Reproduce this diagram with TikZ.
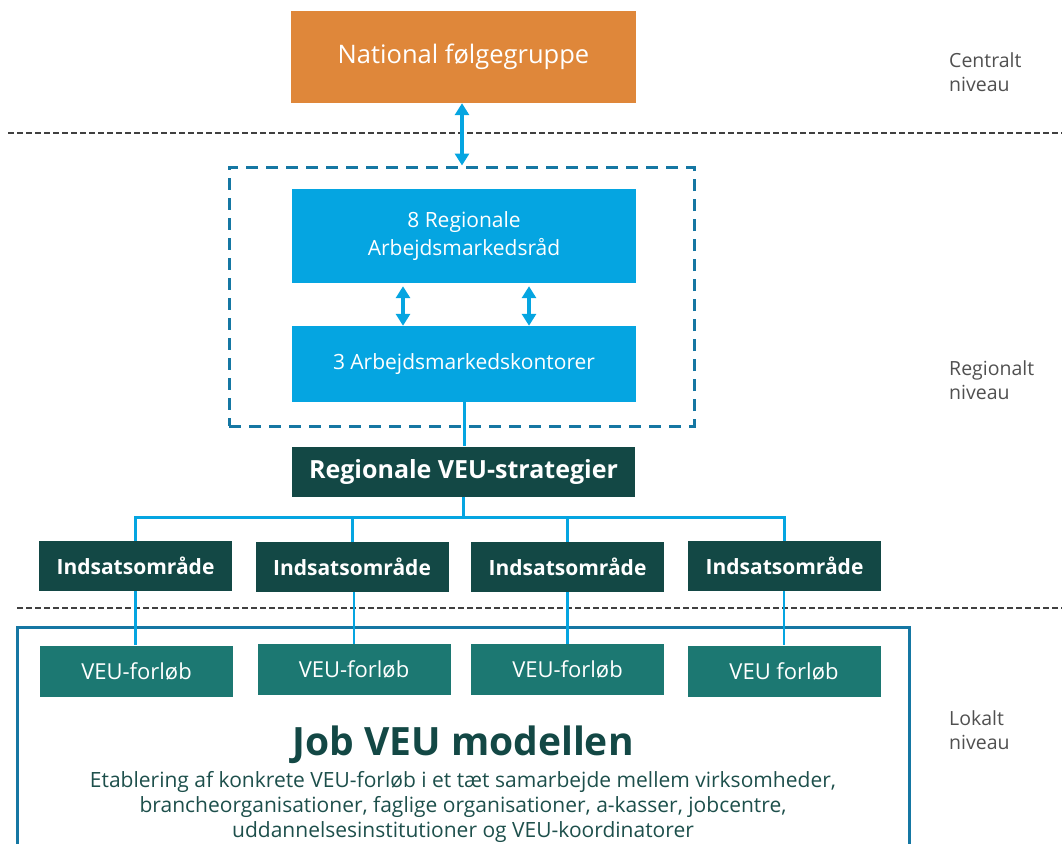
\documentclass[tikz,border=0pt]{standalone}
\usepackage{fontspec}
\setmainfont{Open Sans}
\usetikzlibrary{arrows.meta}
\definecolor{orangeA}{HTML}{DF873A}
\definecolor{blueA}{HTML}{05A5E1}
\definecolor{blueD}{HTML}{1577A3}
\definecolor{tealD}{HTML}{134845}
\definecolor{tealM}{HTML}{1C7872}
\definecolor{tealT}{HTML}{1D4F4B}
\definecolor{grayT}{HTML}{505050}
\definecolor{grayL}{HTML}{404040}
\begin{document}
\begin{tikzpicture}[x=1pt,y=-1pt,
  box/.style={rectangle, inner sep=0pt, text=white, align=center},
  natbox/.style={box, fill=orangeA, minimum width=345pt, minimum height=92pt, font=\fontsize{25.5}{30}\selectfont},
  bluebox/.style={box, fill=blueA, minimum width=344pt, font=\fontsize{21}{28}\selectfont},
  stratbox/.style={box, fill=tealD, minimum width=343pt, minimum height=50pt, font=\fontsize{25}{29}\selectfont\bfseries},
  indbox/.style={box, fill=tealD, minimum width=193pt, minimum height=50pt, font=\fontsize{21}{25}\selectfont\bfseries},
  veubox/.style={box, fill=tealM, minimum width=193pt, minimum height=51pt, font=\fontsize{22}{26}\selectfont},
  dbl/.style={blueA, line width=4pt, {Triangle[width=14pt,length=12pt]}-{Triangle[width=14pt,length=12pt]}},
  conn/.style={blueA, line width=3pt},
  level/.style={anchor=base west, text=grayT, font=\fontsize{19.5}{24}\selectfont, inner sep=0pt},
  descline/.style={anchor=base, text=tealT, font=\fontsize{21}{25}\selectfont, inner sep=0pt},
  sepline/.style={grayL, line width=2pt, dash pattern=on 6pt off 3pt}
]
\useasboundingbox (0,0) rectangle (1062,843);

% separator lines
\draw[sepline] (8,133) -- (1062,133);
\draw[sepline] (17,608) -- (1062,608);

% central
\node[natbox] (nat) at (463.5,57) {National følgegruppe};

% regional group
\node[draw=blueD, line width=3pt, dash pattern=on 12pt off 8pt, rectangle, inner sep=0pt,
      minimum width=465pt, minimum height=259pt] (grp) at (461.5,296.5) {};
\node[bluebox, minimum height=94pt] (reg) at (464,236) {8 Regionale\\Arbejdsmarkedsråd};
\node[bluebox, minimum height=76pt] (kont) at (464,364) {3 Arbejdsmarkedskontorer};

\draw[dbl] ([xshift=-1.5pt]nat.south) -- ([xshift=-1.5pt]nat.south |- grp.north);
\draw[dbl] ([yshift=-3pt]reg.south -| 403,0) -- (kont.north -| 403,0);
\draw[dbl] ([yshift=-3pt]reg.south -| 529,0) -- (kont.north -| 529,0);

\node[stratbox] (strat) at (463.5,471.5) {Regionale VEU-strategier};
\draw[conn] (kont.south) -- (kont.south |- strat.north);

% Indsatsområder
\node[indbox] (ind1) at (135.5,566) {Indsatsområde};
\node[indbox] (ind2) at (352,567) {Indsatsområde};
\node[indbox] (ind3) at (567.5,567) {Indsatsområde};
\node[indbox] (ind4) at (784.5,566) {Indsatsområde};

\coordinate (bus) at (463.5,517);
\draw[conn] (strat.south) -- (bus);
\draw[conn] (ind1.north) |- (bus) -| (ind4.north);
\draw[conn] (ind2.north) -- (ind2.north |- bus);
\draw[conn] (ind3.north) -- (ind3.north |- bus);

% local box
\draw[blueD, line width=3pt] (17,860) -- (17,627) -- (909,627) -- (909,860);

% VEU-forløb
\node[veubox] (veu1) at (136.5,671) {VEU-forløb};
\node[veubox] (veu2) at (354,669.5) {VEU-forløb};
\node[veubox] (veu3) at (567.5,669.5) {VEU-forløb};
\node[veubox] (veu4) at (784,671) {VEU forløb};

\draw[conn, line width=2.5pt] (ind1.south) -- (ind1.south |- veu1.north);
\draw[conn, line width=2.5pt] (ind2.south -| veu2.north) -- (veu2.north);
\draw[conn, line width=2.5pt] (ind3.south) -- (veu3.north);
\draw[conn, line width=2.5pt] (ind4.south -| veu4.north) -- (veu4.north);

\node[text=tealD, font=\fontsize{39}{44}\selectfont\bfseries, inner sep=0pt] (job) at (463,745) {Job VEU modellen};
\node[descline] (desc1) at (463,787) {Etablering af konkrete VEU-forløb i et tæt samarbejde mellem virksomheder,};
\node[descline] (desc2) at (463,812) {brancheorganisationer, faglige organisationer, a-kasser, jobcentre,};
\node[descline] (desc3) at (463,837) {uddannelsesinstitutioner og VEU-koordinatorer};

% level labels
\node[level] (lc1) at (949,67) {Centralt};
\node[level] (lc2) at (949,91) {niveau};
\node[level] (lr1) at (949,375) {Regionalt};
\node[level] (lr2) at (949,399) {niveau};
\node[level] (ll1) at (949,725) {Lokalt};
\node[level] (ll2) at (949,749) {niveau};
\end{tikzpicture}
\end{document}
